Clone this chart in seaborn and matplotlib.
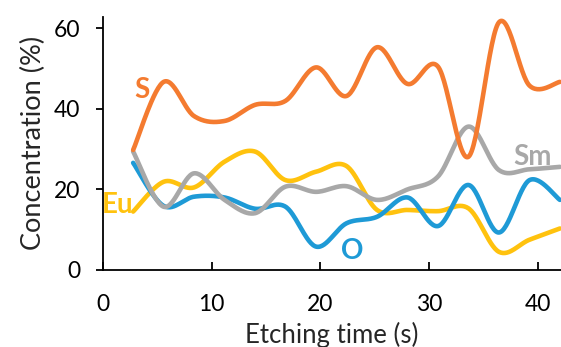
import numpy as np
import pandas as pd
import matplotlib
matplotlib.use("Agg")
import matplotlib.pyplot as plt
import seaborn as sns

# ---- data ----
time_s = [2.8, 5.6, 8.4, 11.2, 14.0, 16.8, 19.6, 22.4, 25.2, 28.0, 30.8, 33.6, 36.4, 39.2, 42.0]
S_vals = [29.8, 46.7, 38.2, 37.0, 41.0, 42.0, 50.3, 43.2, 55.3, 46.2, 50.5, 28.1, 61.5, 45.8, 46.7]
Eu_vals = [14.5, 21.9, 20.5, 26.9, 29.4, 22.3, 24.4, 25.8, 14.9, 14.9, 14.6, 15.3, 4.5, 7.5, 10.3]
O_vals = [26.6, 15.9, 18.2, 18.0, 15.2, 15.7, 5.8, 11.6, 13.2, 18.0, 10.9, 21.1, 9.3, 22.3, 17.4]
Sm_vals = [29.4, 15.7, 24.0, 17.4, 14.1, 20.7, 19.4, 20.8, 17.4, 20.0, 23.2, 35.6, 24.8, 25.0, 25.6]

series_names = ["Eu", "O", "Sm", "S"]
series_values = {"S": S_vals, "Eu": Eu_vals, "O": O_vals, "Sm": Sm_vals}
colors = {"S": "#F47B30", "Eu": "#FFC20E", "O": "#1E9AD6", "Sm": "#A8A8A8"}

x_ticks = [0, 10, 20, 30, 40]
y_ticks = [0, 20, 40, 60]


def catmull_rom(x, y, n=30):
    """Smooth curve through points (like a spreadsheet 'smoothed line')."""
    x = np.asarray(x, float)
    y = np.asarray(y, float)
    px = np.concatenate([[x[0]], x, [x[-1]]])
    py = np.concatenate([[y[0]], y, [y[-1]]])
    xs, ys = [], []
    t = np.linspace(0, 1, n, endpoint=False)
    for i in range(1, len(px) - 2):
        p0x, p1x, p2x, p3x = px[i - 1:i + 3]
        p0y, p1y, p2y, p3y = py[i - 1:i + 3]
        for (p0, p1, p2, p3, out) in ((p0x, p1x, p2x, p3x, xs), (p0y, p1y, p2y, p3y, ys)):
            out.extend(0.5 * ((2 * p1) + (-p0 + p2) * t + (2 * p0 - 5 * p1 + 4 * p2 - p3) * t ** 2
                              + (-p0 + 3 * p1 - 3 * p2 + p3) * t ** 3))
    xs.append(x[-1])
    ys.append(y[-1])
    return np.array(xs), np.array(ys)


rows = []
for name in series_names:
    cx, cy = catmull_rom(time_s, series_values[name])
    rows.append(pd.DataFrame({"t": cx, "c": cy, "el": name, "order": np.arange(len(cx))}))
df = pd.concat(rows, ignore_index=True)

sns.set_style("white")
plt.rcParams["font.family"] = ["Lato", "DejaVu Sans"]

fig = plt.figure(figsize=(5.61, 3.47), dpi=100)
ax = fig.add_axes([0.183, 0.222, 0.817, 0.730])

for name in series_names:
    sub = df[df["el"] == name]
    sns.lineplot(data=sub, x="t", y="c", sort=False, ax=ax, color=colors[name],
                 linewidth=3.3, legend=False, estimator=None)

ax.set_xlim(0, 42.1)
ax.set_ylim(0, 62.9)
ax.set_xticks(x_ticks)
ax.set_yticks(y_ticks)
ax.set_xticklabels([str(v) for v in x_ticks])
ax.set_yticklabels([str(v) for v in y_ticks])

for side in ("top", "right"):
    ax.spines[side].set_visible(False)
for side in ("left", "bottom"):
    ax.spines[side].set_color("black")
    ax.spines[side].set_linewidth(1.3)

ax.tick_params(axis="x", direction="in", length=6, width=1.3, pad=17, labelsize=16.5, colors="black")
ax.tick_params(axis="y", direction="out", length=5, width=1.3, pad=11, labelsize=16.5, colors="black")
ax.tick_params(left=True, bottom=True)

ax.set_xlabel("Etching time (s)", fontsize=18.5, labelpad=5)
ax.set_ylabel("Concentration (%)", fontsize=19.5, labelpad=6)

label_kw = dict(fontsize=20, fontweight="bold", ha="center", va="center")
ax.text(3.6, 44.7, "S", color=colors["S"], **label_kw)
ax.text(1.4, 16.1, "Eu", color=colors["Eu"], **label_kw)
ax.text(22.96, 4.8, "O", color=colors["O"], **label_kw)
ax.text(39.5, 28.1, "Sm", color=colors["Sm"], **label_kw)

fig.savefig("out.png", dpi=100)
